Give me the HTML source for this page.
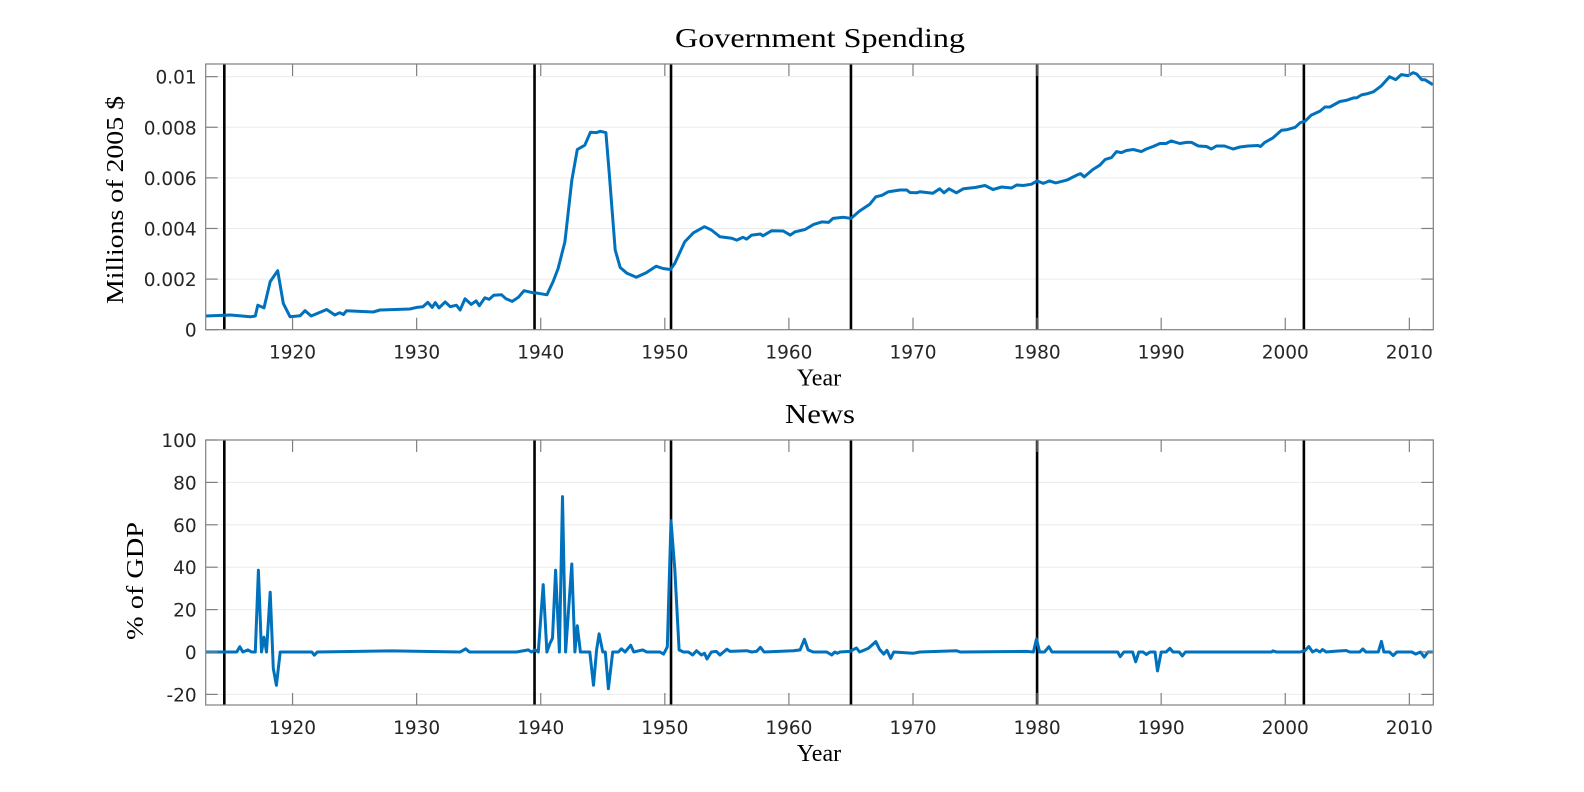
<!DOCTYPE html>
<html><head><meta charset="utf-8"><title>Government Spending and News</title>
<style>
html,body{margin:0;padding:0;background:#fff;}
svg{display:block;}
.tick{font-family:"DejaVu Sans","Liberation Sans",sans-serif;font-size:18.5px;fill:#262626;}
.ttl{font-family:"Liberation Serif","DejaVu Serif",serif;fill:#000;}
</style></head>
<body>
<svg id="chart" width="1584" height="792" viewBox="0 0 1584 792"></svg>
<script>
const govYears=[1913,1915,1916.6,1917,1917.2,1917.7,1918.2,1918.8,1919.25,1919.8,1920.6,1921,1921.5,1922.75,1923.4,1923.8,1924.1,1924.35,1926.5,1927.05,1929.45,1930,1930.5,1930.9,1931.25,1931.5,1931.8,1932.3,1932.7,1933.2,1933.5,1933.9,1934.4,1934.8,1935.05,1935.5,1935.85,1936.2,1936.85,1937.2,1937.7,1938.2,1938.65,1939.4,1939.8,1940.5,1941,1941.4,1941.95,1942.5,1942.95,1943.55,1944,1944.5,1944.8,1945.25,1945.5,1946,1946.4,1946.95,1947.7,1948.5,1949.3,1949.85,1950.45,1950.8,1951.6,1952.3,1953.2,1953.75,1954.45,1955.4,1955.8,1956.3,1956.6,1957,1957.7,1957.9,1958.6,1959.55,1960.1,1960.5,1961.3,1962,1962.65,1963.2,1963.55,1964.4,1965,1965.7,1966.5,1967,1967.5,1968,1968.95,1969.5,1969.75,1970.3,1970.55,1971.6,1972.15,1972.5,1972.9,1973.5,1974.05,1975,1975.8,1976.45,1977.15,1977.95,1978.35,1978.9,1979.55,1980,1980.5,1981,1981.5,1982.4,1983.2,1983.5,1983.8,1984.5,1985.05,1985.5,1986,1986.4,1986.8,1987.2,1987.75,1988.4,1988.8,1989.35,1989.9,1990.4,1990.8,1991.5,1992.05,1992.45,1993,1993.65,1994.05,1994.45,1995.1,1995.8,1996.35,1997,1997.8,1998,1998.35,1999,1999.7,2000.1,2000.8,2001.2,2001.6,2002.1,2002.8,2003.2,2003.6,2004.4,2004.9,2005.5,2005.75,2006.15,2006.55,2007.1,2007.75,2008.4,2008.9,2009.35,2009.9,2010.3,2010.6,2011,2011.25,2011.9];
const govValues=[0.00054,0.00058,0.00051,0.00054,0.00097,0.00086,0.0019,0.00233,0.00104,0.00051,0.00055,0.00075,0.00054,0.0008,0.00058,0.00067,0.0006,0.00075,0.0007,0.00078,0.00082,0.00088,0.00091,0.00108,0.00088,0.00107,0.00086,0.0011,0.00091,0.00097,0.00078,0.00122,0.001,0.00114,0.00095,0.00126,0.0012,0.00136,0.00138,0.00122,0.00112,0.00128,0.00154,0.00146,0.00144,0.00138,0.0019,0.00242,0.00347,0.0059,0.00712,0.00729,0.0078,0.00779,0.00784,0.00779,0.0063,0.00315,0.00246,0.00223,0.00207,0.00225,0.00251,0.00242,0.00238,0.00262,0.00347,0.00383,0.00407,0.00394,0.00367,0.00361,0.00354,0.00365,0.00358,0.00374,0.00378,0.00371,0.00391,0.0039,0.00374,0.00387,0.00396,0.00416,0.00426,0.00424,0.0044,0.00444,0.0044,0.00469,0.00495,0.00525,0.00531,0.00545,0.00552,0.00552,0.00542,0.00541,0.00545,0.00539,0.00557,0.00541,0.00557,0.00541,0.00557,0.00562,0.0057,0.00554,0.00564,0.0056,0.00572,0.0057,0.00575,0.00588,0.00578,0.00588,0.0058,0.00591,0.00611,0.00617,0.00604,0.00633,0.0065,0.00673,0.0068,0.00704,0.007,0.00708,0.00712,0.00704,0.00714,0.00724,0.00736,0.00736,0.00746,0.00736,0.0074,0.0074,0.00726,0.00724,0.00714,0.00726,0.00726,0.00714,0.00722,0.00726,0.00728,0.00724,0.0074,0.00758,0.00788,0.0079,0.008,0.00818,0.00824,0.00848,0.00864,0.0088,0.0088,0.00902,0.00906,0.00916,0.00916,0.00928,0.00932,0.0094,0.00964,0.01,0.00988,0.01008,0.01004,0.01016,0.0101,0.00988,0.00988,0.00968];
const newsYears=[1913,1915.5,1915.75,1916,1916.4,1916.7,1917,1917.25,1917.5,1917.7,1917.9,1918.2,1918.45,1918.7,1919,1921.55,1921.75,1922,1928,1933.5,1933.95,1934.25,1938.05,1939,1939.25,1939.55,1939.8,1940.2,1940.5,1940.75,1940.95,1941.2,1941.5,1941.75,1942,1942.5,1942.75,1942.95,1943.2,1943.95,1944.25,1944.5,1944.7,1945,1945.2,1945.45,1945.8,1946.25,1946.5,1946.8,1947.25,1947.5,1948.2,1948.55,1949.6,1949.9,1950.2,1950.5,1950.8,1951.15,1951.5,1951.9,1952.25,1952.55,1952.95,1953.2,1953.4,1953.75,1954.15,1954.45,1955,1955.25,1956.6,1957,1957.4,1957.7,1958,1960.35,1960.9,1961.25,1961.55,1961.95,1963.05,1963.45,1963.7,1963.9,1964.1,1964.9,1965.45,1965.7,1966.4,1967,1967.3,1967.65,1967.9,1968.2,1968.45,1970,1970.55,1973.5,1973.8,1979.15,1979.7,1979.95,1980.2,1980.6,1980.95,1981.2,1986.5,1986.7,1987,1987.7,1987.95,1988.2,1988.55,1988.8,1989.1,1989.5,1989.7,1990,1990.4,1990.7,1990.95,1991.45,1991.7,1991.95,1998.9,1999,1999.3,2001.2,2001.6,2001.9,2002.2,2002.5,2002.8,2003,2003.3,2003.85,2004.9,2005.2,2006,2006.25,2006.5,2007.5,2007.75,2007.95,2008.4,2008.7,2009,2010.2,2010.5,2010.9,2011.2,2011.5,2011.9];
const newsValues=[0,0,2.5,0,1,0,0,38.6,0,7,0,28.2,-7.8,-15.7,0,0,-1.5,0,0.5,0,1.5,0,0,1,0,1,0,31.8,0,4.1,6.5,38.6,0,73.3,0,41.5,0,12.4,0,0,-15.7,1,8.6,0,0,-17.3,0,0,1.5,0,3.2,0,1,0,0,-1,2.4,61.9,39,1,0,0,-1.4,0.6,-1.4,-0.6,-3.3,0,0.3,-1.4,1.3,0.3,0.6,0,0.3,2.2,0,0.6,1,6,1,0,0,-1.4,0,-0.6,0,0.3,1.9,0,1.7,4.9,1.3,-1,0.8,-3,0,-0.6,0,0.6,0,0.3,0,6.2,0,0,2.5,0,0,-2.2,0,0,-4.6,0,0,-1.2,0,0,-8.9,0,0,1.7,0,0,-1.9,0,0,0.5,0,0,0.7,2.6,0,1,0,1.2,0,0.3,0.7,0,0,1.4,0,0,5,0,0,-1.7,0,0,-1,0,-2.4,0,0];
const eventYears=[1914.5,1939.5,1950.5,1965.0,1980.0,2001.5];
const xTicks=[1920,1930,1940,1950,1960,1970,1980,1990,2000,2010];
const govTicks=[0,0.002,0.004,0.006,0.008,0.01];
const govTickLabels=["0","0.002","0.004","0.006","0.008","0.01"];
const newsTicks=[-20,0,20,40,60,80,100];

const NS="http://www.w3.org/2000/svg";
const svg=document.getElementById('chart');
const L=205.7,R=1433.3,X0=1913,X1=2011.93;
function xs(yr){return L+(yr-X0)*(R-L)/(X1-X0);}
function mk(tag,attrs,parent){const e=document.createElementNS(NS,tag);for(const k in attrs)e.setAttribute(k,attrs[k]);(parent||svg).appendChild(e);return e;}

function panel(cfg){
  const g=mk('g',{});
  
  
  const ys=v=>cfg.bot-(v-cfg.ymin)*(cfg.bot-cfg.top)/(cfg.ymax-cfg.ymin);
  // grid
  cfg.yt.forEach(v=>{const y=ys(v);const l=mk('line',{x1:L,x2:R,y1:y,y2:y,stroke:'#ebebeb','stroke-width':1},g);
    
    });
  // event lines
  eventYears.forEach(yr=>{const x=xs(yr);const l=mk('line',{x1:x,x2:x,y1:cfg.top,y2:cfg.bot,stroke:'#000','stroke-width':2.6},g);
    
    });
  // series
  const pts=cfg.xv.map((yr,i)=>xs(yr).toFixed(1)+','+ys(cfg.yv[i]).toFixed(1)).join(' ');
  const pl=mk('polyline',{points:pts,fill:'none',stroke:'#0072BD','stroke-width':3,'stroke-linejoin':'round'},g);
  
  
  // box
  const b=mk('rect',{x:L,y:cfg.top,width:R-L,height:cfg.bot-cfg.top,fill:'none',stroke:'#808080','stroke-width':1.2},g);
  
  
  // x ticks
  xTicks.forEach(t=>{const x=xs(t);
    mk('line',{x1:x,x2:x,y1:cfg.bot,y2:cfg.bot-12,stroke:'#808080','stroke-width':1.2},g);
    mk('line',{x1:x,x2:x,y1:cfg.top,y2:cfg.top+12,stroke:'#808080','stroke-width':1.2},g);
    const tx=mk('text',{x:x,y:cfg.bot+29,'text-anchor':'middle',class:'tick'},g);tx.textContent=t;
    
    });
  cfg.yt.forEach((v,i)=>{const y=ys(v);
    mk('line',{x1:L,x2:L+12,y1:y,y2:y,stroke:'#808080','stroke-width':1.2},g);
    mk('line',{x1:R,x2:R-12,y1:y,y2:y,stroke:'#808080','stroke-width':1.2},g);
    const tx=mk('text',{x:L-9,y:y+7,'text-anchor':'end',class:'tick'},g);tx.textContent=cfg.yl[i];
    
    });
  const t=mk('text',{x:820,y:cfg.top-17,'text-anchor':'middle',class:'ttl','font-size':27,textLength:cfg.titleW,lengthAdjust:'spacingAndGlyphs'},g);t.textContent=cfg.title;
  
  
  const xl=mk('text',{x:819,y:cfg.bot+56,'text-anchor':'middle',class:'ttl','font-size':24},g);xl.textContent='Year';
  
  
  const yl=mk('text',{x:0,y:0,'text-anchor':'middle',class:'ttl','font-size':24,transform:`translate(${cfg.ylx},${cfg.yly}) rotate(-90)`,textLength:cfg.ylw,lengthAdjust:'spacingAndGlyphs'},g);yl.textContent=cfg.ylabel;
  
  
}
panel({name:'government-spending-panel',seriesName:'government-spending-line',top:64,bot:329.7,ymin:0,ymax:0.0105,xv:govYears,yv:govValues,yt:govTicks,yl:govTickLabels,title:'Government Spending',titleW:290,ylabel:'Millions of 2005 $',ylx:123,yly:200,ylw:208});
panel({name:'news-panel',seriesName:'news-line',top:440,bot:705,ymin:-25,ymax:100,xv:newsYears,yv:newsValues,yt:newsTicks,yl:newsTicks.map(String),title:'News',titleW:70,ylabel:'% of GDP',ylx:143,yly:581,ylw:118});
</script>
</body></html>
